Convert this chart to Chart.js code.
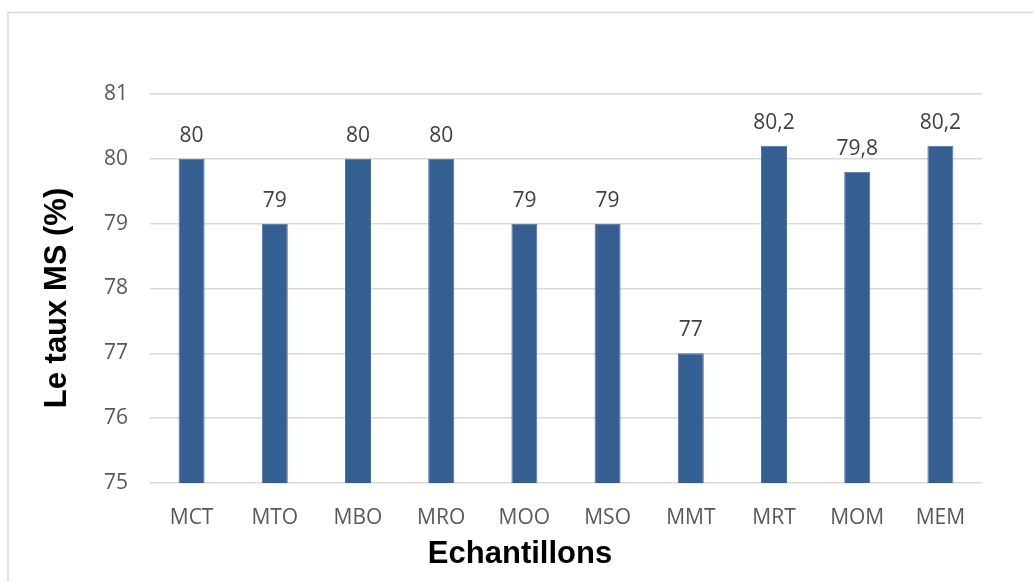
<!DOCTYPE html>
<html>
<head>
<meta charset="utf-8">
<script src="https://cdn.jsdelivr.net/npm/chart.js@4/dist/chart.umd.min.js"></script>
<style>
  html, body { margin: 0; padding: 0; background: #ffffff; }
  #wrap { position: relative; width: 1033px; height: 582px; }
</style>
</head>
<body>
<div id="wrap"><canvas id="chart"></canvas></div>
<script>
// Dry-matter rate per sample
const categories = ['MCT', 'MTO', 'MBO', 'MRO', 'MOO', 'MSO', 'MMT', 'MRT', 'MOM', 'MEM'];
const msValues = [80, 79, 80, 80, 79, 79, 77, 80.2, 79.8, 80.2];
const yTicks = [75, 76, 77, 78, 79, 80, 81];
const xTitle = 'Echantillons';
const yTitle = 'Le taux MS (%)';

const tickFont = { family: '"Open Sans", sans-serif', size: 21 };
const titleFontCss = 'bold 31px "Liberation Sans", Arial, sans-serif';

// Light frame around the chart object
const framePlugin = {
  id: 'frame',
  beforeDraw(chart) {
    const ctx = chart.ctx;
    ctx.save();
    ctx.strokeStyle = '#d9d9d9';
    ctx.lineWidth = 1.5;
    ctx.strokeRect(8, 12.5, chart.width + 20, chart.height + 20);
    ctx.restore();
  }
};

// Axis titles, placed freely within the frame
const axisTitles = {
  id: 'axisTitles',
  afterDraw(chart) {
    const ctx = chart.ctx;
    ctx.save();
    ctx.font = titleFontCss;
    ctx.fillStyle = '#000000';
    ctx.textAlign = 'center';
    ctx.textBaseline = 'middle';
    ctx.fillText(xTitle, 520, 554);
    ctx.translate(57, 298);
    ctx.rotate(-Math.PI / 2);
    ctx.fillText(yTitle, 0, 0);
    ctx.restore();
  }
};

// Value labels above each bar, French decimal comma
const valueLabels = {
  id: 'valueLabels',
  afterDatasetsDraw(chart) {
    const ctx = chart.ctx;
    const meta = chart.getDatasetMeta(0);
    ctx.save();
    ctx.font = `${tickFont.size}px ${tickFont.family}`;
    ctx.fillStyle = '#404040';
    ctx.textAlign = 'center';
    ctx.textBaseline = 'alphabetic';
    meta.data.forEach((bar, i) => {
      const txt = String(msValues[i]).replace('.', ',');
      ctx.fillText(txt, bar.x, bar.y - 17);
    });
    ctx.restore();
  }
};

new Chart(document.getElementById('chart'), {
  type: 'bar',
  data: {
    labels: categories,
    datasets: [{
      data: msValues,
      backgroundColor: '#365f91',
      borderColor: '#4d72a1',
      borderWidth: 1,
      categoryPercentage: 1,
      barPercentage: 0.3125
    }]
  },
  options: {
    responsive: true,
    maintainAspectRatio: false,
    animation: false,
    layout: { padding: { top: 94, right: 51, bottom: 0, left: 0 } },
    plugins: {
      legend: { display: false },
      tooltip: { enabled: false }
    },
    scales: {
      x: {
        grid: { display: false },
        border: { display: false },
        ticks: { color: '#595959', font: tickFont, padding: 14, maxRotation: 0 },
        afterFit(scale) { scale.height = 99; }
      },
      y: {
        min: 75,
        max: 81,
        afterBuildTicks(scale) { scale.ticks = yTicks.map(v => ({ value: v })); },
        grid: { color: '#d9d9d9', lineWidth: 1.5, drawTicks: false },
        border: { display: false },
        ticks: { color: '#595959', font: tickFont, padding: 22 },
        afterFit(scale) { scale.width = 150; }
      }
    }
  },
  plugins: [framePlugin, valueLabels, axisTitles]
});
</script>
</body>
</html>
